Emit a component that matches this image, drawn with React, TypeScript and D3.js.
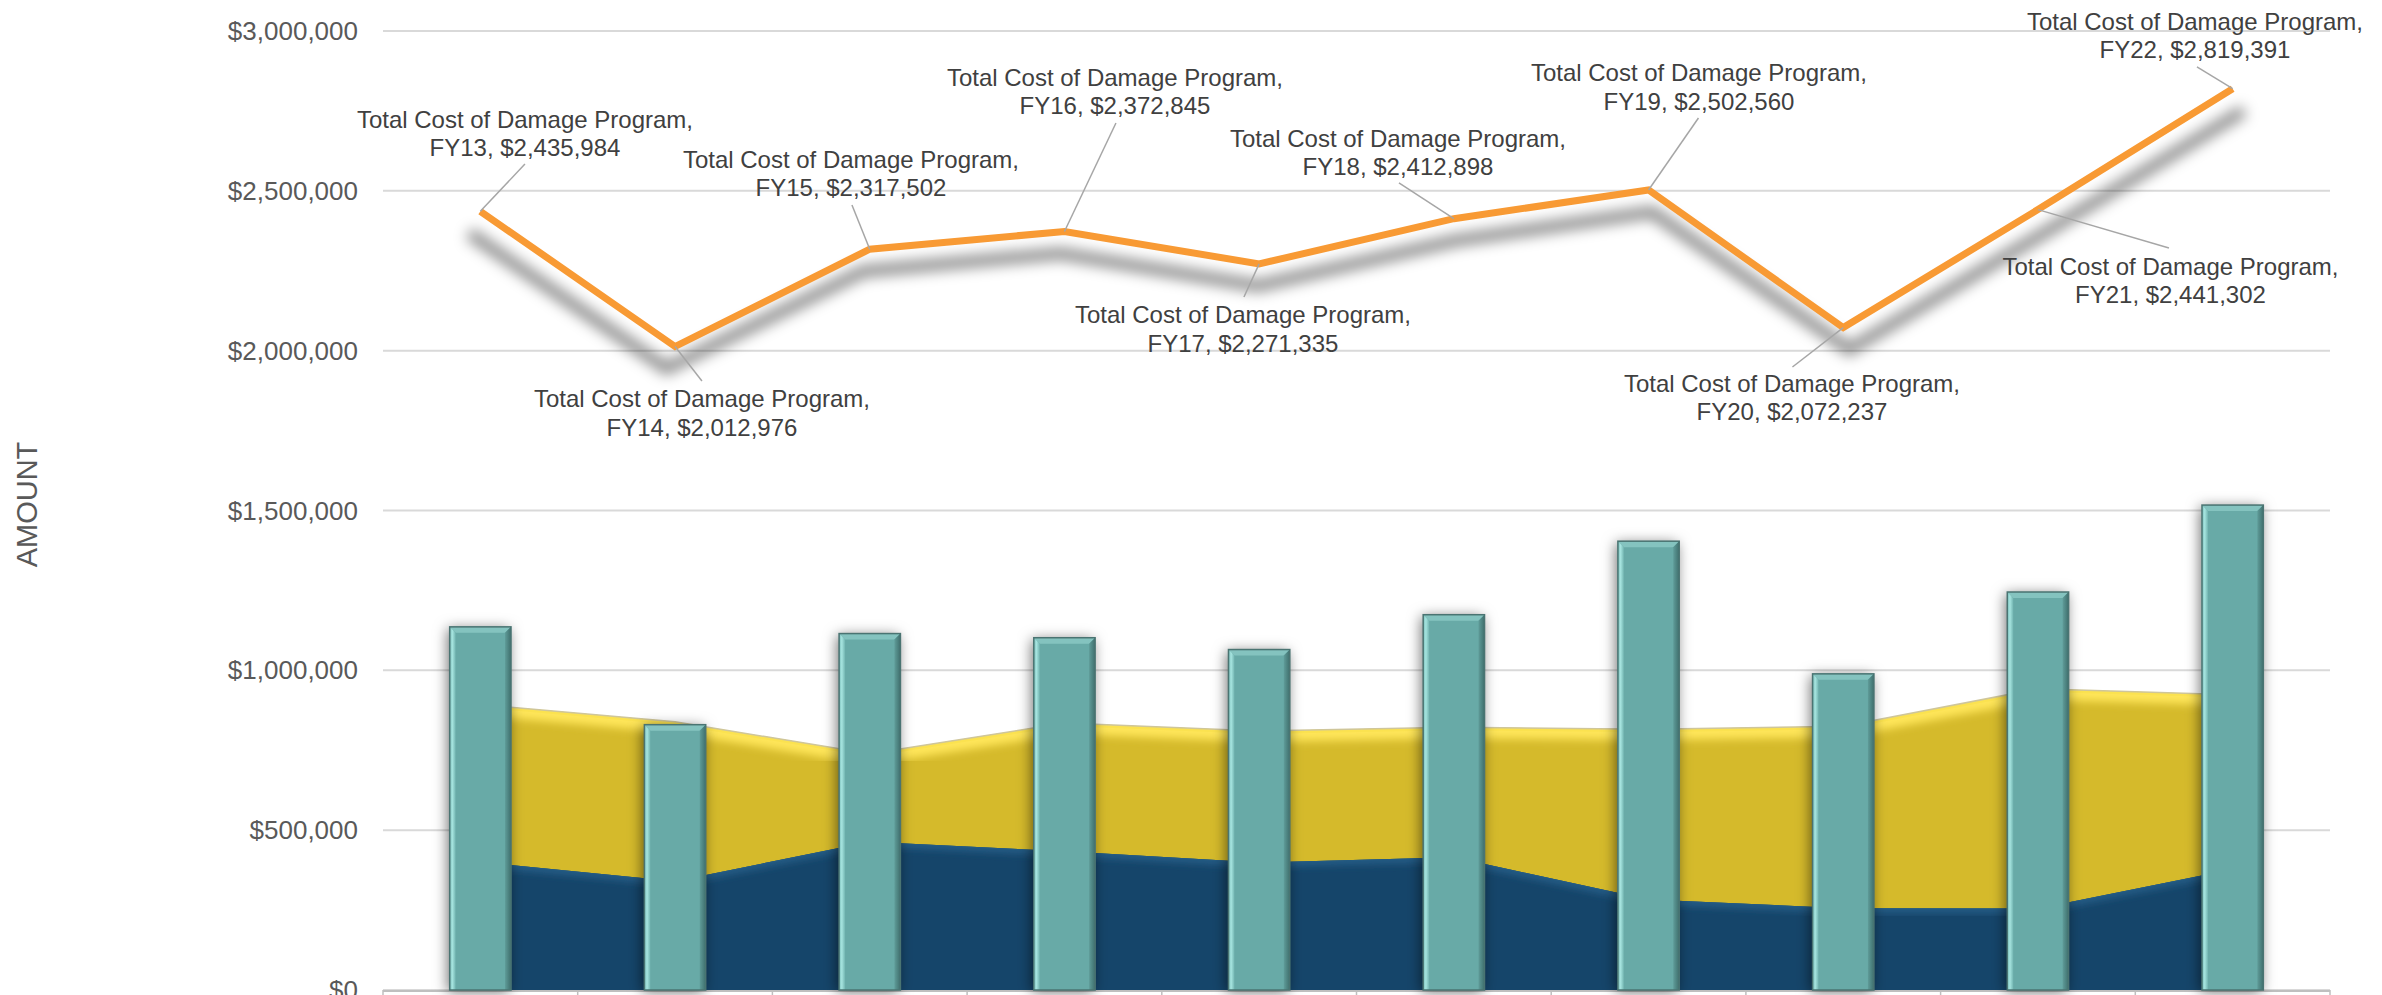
import React from "react";
import * as d3 from "d3";

const categories = ["FY13", "FY14", "FY15", "FY16", "FY17", "FY18", "FY19", "FY20", "FY21", "FY22"];
const barValues = [1136000, 830000, 1115000, 1102000, 1065000, 1174000, 1404000, 989000, 1245000, 1517000];
const yellowValues = [893000, 839000, 739000, 835000, 810000, 822000, 816000, 825000, 942000, 924000];
const navyValues = [400000, 340000, 464000, 434000, 399000, 415000, 283000, 256000, 255000, 378000];
const totalValues = [2435984, 2012976, 2317502, 2372845, 2271335, 2412898, 2502560, 2072237, 2441302, 2819391];
const yTicks = [0, 500000, 1000000, 1500000, 2000000, 2500000, 3000000];
const seriesLabel = "Total Cost of Damage Program,";

// label layout (offsets from each line point)
const labelDx = [44.6, 26.9, -18.8, 50.5, -16.2, -55.9, 50.4, -51.3, 132.5, -37.7];
const labelDy = [-83.3, 60.5, -81.2, -145.5, 59.1, -71.7, -109, 64.4, 65.4, -58.8];
const leaderDx = [44.6, 26.9, -17.8, 51.5, -15.2, -54.9, 49.9, -50.8, 131, -35.7];
const leaderDy = [-47.3, 34.5, -44.2, -108.5, 33.1, -35.7, -72, 39.4, 38.4, -21.8];

const W = 2382;
const H = 995;
const FONT = "'Liberation Sans', Arial, sans-serif";

export default function App() {
  const x = d3.scaleBand<string>().domain(categories).range([383, 2330]).paddingInner(0).paddingOuter(0);
  const y = d3.scaleLinear().domain([0, 3000000]).range([990, 31]);
  const cx = (i: number) => (x(categories[i]) as number) + x.bandwidth() / 2;
  const fmt = (v: number) => "$" + d3.format(",")(v);

  const idx = categories.map((_, i) => i);
  const areaGen = (vals: number[]) =>
    d3.area<number>().x((i) => cx(i)).y0(y(0)).y1((i) => y(vals[i]))(idx) as string;
  const topGen = (vals: number[]) =>
    d3.line<number>().x((i) => cx(i)).y((i) => y(vals[i]))(idx) as string;
  const linePath = d3.line<number>().x((i) => cx(i)).y((i) => y(totalValues[i]))(idx) as string;

  const barW = x.bandwidth() * 0.315;
  const bev = 6;
  const midX = (cx(0) + cx(categories.length - 1)) / 2;

  return (
    <svg width={W} height={H} style={{ position: "absolute", left: 0, top: 0, background: "#fff" }} fontFamily={FONT}>
      <defs>
        <filter id="lineShadow" x="-10%" y="-50%" width="120%" height="200%">
          <feGaussianBlur stdDeviation="7" />
        </filter>
        <filter id="barShadow" x="-50%" y="-10%" width="200%" height="120%">
          <feDropShadow dx="-2" dy="2" stdDeviation="7" floodColor="#000" floodOpacity="0.55" />
        </filter>
        <filter id="soft" x="-10%" y="-10%" width="120%" height="120%">
          <feGaussianBlur stdDeviation="4" />
        </filter>
        <clipPath id="clipYellow">
          <path d={areaGen(yellowValues)} />
        </clipPath>
        <clipPath id="clipNavy">
          <path d={areaGen(navyValues)} />
        </clipPath>
        <linearGradient id="leftBev" x1="0" x2="1" y1="0" y2="0">
          <stop offset="0" stopColor="#7cc0bc" />
          <stop offset="0.45" stopColor="#a6e4df" />
          <stop offset="1" stopColor="#72b5b1" />
        </linearGradient>
        <linearGradient id="rightBev" x1="0" x2="1" y1="0" y2="0">
          <stop offset="0" stopColor="#5f9c99" />
          <stop offset="1" stopColor="#3f6f6d" />
        </linearGradient>
      </defs>

      {/* gridlines */}
      {yTicks.map((t) => (
        <line key={"g" + t} x1={383} x2={2330} y1={y(t)} y2={y(t)} stroke="#d9d9d9" strokeWidth={2} />
      ))}

      {/* y tick labels */}
      {yTicks.map((t) => (
        <text key={"t" + t} x={358} y={y(t)} dy="0.35em" textAnchor="end" fontSize={26} fill="#595959">
          {fmt(t)}
        </text>
      ))}

      {/* axis title */}
      <text
        transform={`translate(37,${(y(0) + y(3000000)) / 2 - 6}) rotate(-90)`}
        textAnchor="middle"
        fontSize={29}
        fill="#595959"
      >
        AMOUNT
      </text>

      {/* yellow area */}
      <path d={areaGen(yellowValues)} fill="#d5ba2b" />
      <g clipPath="url(#clipYellow)">
        <path d={topGen(yellowValues)} fill="none" stroke="#ffe65a" strokeWidth={22} filter="url(#soft)" />
        <path d={topGen(yellowValues)} fill="none" stroke="#fbe250" strokeWidth={6} />
      </g>
      <path d={topGen(yellowValues)} fill="none" stroke="#cfc69a" strokeWidth={1.5} />

      {/* navy area */}
      <path d={areaGen(navyValues)} fill="#15456a" />
      <g clipPath="url(#clipNavy)">
        <path d={topGen(navyValues)} fill="none" stroke="#2d6a96" strokeWidth={6} filter="url(#soft)" />
        <path d={topGen(navyValues)} fill="none" stroke="#245a82" strokeWidth={2.5} />
      </g>

      {/* x axis line and ticks */}
      <line x1={383} x2={2330} y1={y(0) + 1} y2={y(0) + 1} stroke="#bfbfbf" strokeWidth={2} />
      {d3.range(categories.length + 1).map((k) => {
        const xx = 383 + k * x.step();
        return <line key={"k" + k} x1={xx} x2={xx} y1={y(0)} y2={H} stroke="#bfbfbf" strokeWidth={1.5} />;
      })}

      {/* bars */}
      {barValues.map((v, i) => {
        const x0 = cx(i) - barW / 2;
        const x1 = cx(i) + barW / 2;
        const y0 = y(v);
        const yb = y(0);
        return (
          <g key={"b" + i}>
            <rect x={x0} y={y0} width={barW} height={yb - y0} fill="#68aaa7" filter="url(#barShadow)" />
            <polygon points={`${x0},${y0} ${x1},${y0} ${x1 - bev},${y0 + bev} ${x0 + bev},${y0 + bev}`} fill="#84c3bf" />
            <polygon points={`${x0},${y0} ${x0 + bev},${y0 + bev} ${x0 + bev},${yb} ${x0},${yb}`} fill="url(#leftBev)" />
            <polygon points={`${x1},${y0} ${x1 - bev},${y0 + bev} ${x1 - bev},${yb} ${x1},${yb}`} fill="url(#rightBev)" />
            <rect x={x0} y={y0} width={barW} height={yb - y0} fill="none" stroke="#4a7472" strokeWidth={1.5} />
          </g>
        );
      })}

      {/* line shadow */}
      <g transform={`translate(${midX},22) scale(1.0125,1) translate(${-midX},0)`}>
        <path d={linePath} fill="none" stroke="#000" strokeOpacity={0.45} strokeWidth={12} filter="url(#lineShadow)" />
      </g>
      {/* line */}
      <path d={linePath} fill="none" stroke="#f89a34" strokeWidth={7} strokeLinejoin="miter" />

      {/* leader lines and labels */}
      {totalValues.map((v, i) => {
        const px = cx(i);
        const py = y(v);
        return (
          <g key={"l" + i}>
            <line x1={px} y1={py} x2={px + leaderDx[i]} y2={py + leaderDy[i]} stroke="#a6a6a6" strokeWidth={1.5} />
            <text x={px + labelDx[i]} y={py + labelDy[i]} textAnchor="middle" fontSize={24} fill="#404040">
              <tspan x={px + labelDx[i]}>{seriesLabel}</tspan>
              <tspan x={px + labelDx[i]} dy={28.5}>
                {categories[i] + ", " + fmt(v)}
              </tspan>
            </text>
          </g>
        );
      })}
    </svg>
  );
}
